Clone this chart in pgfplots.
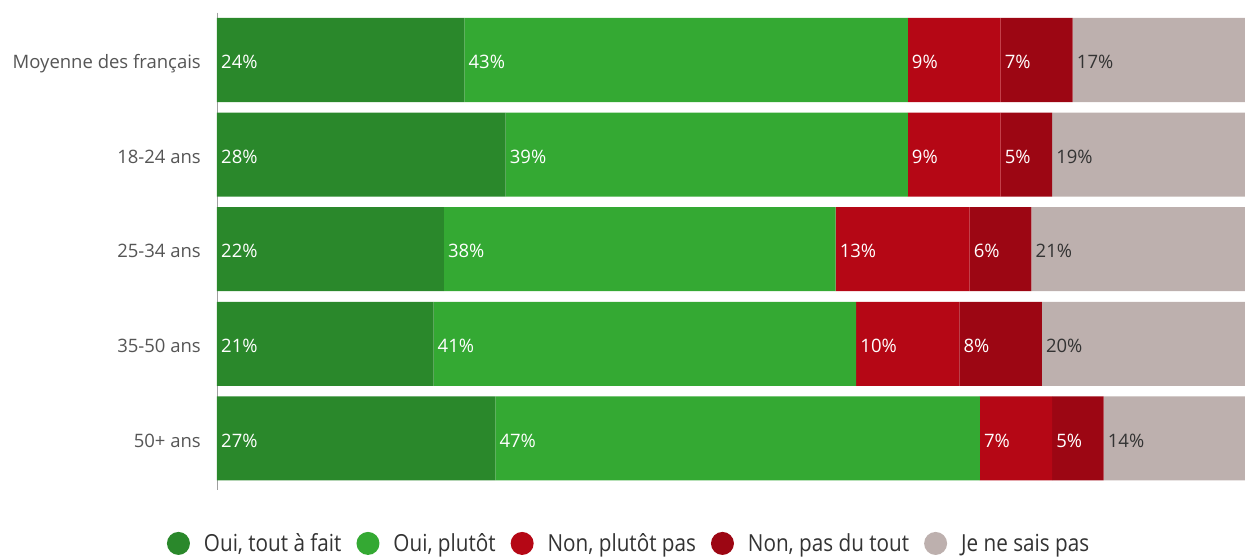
\documentclass[border=0pt]{standalone}
\usepackage{fontspec}
\setmainfont{Open Sans}
\newfontfamily\legfont[FakeStretch=0.88]{Open Sans}
\usepackage{pgfplots}
\pgfplotsset{compat=1.18}
\definecolor{c1}{HTML}{2A882B}
\definecolor{c2}{HTML}{34A933}
\definecolor{c3}{HTML}{B50715}
\definecolor{c4}{HTML}{9C0613}
\definecolor{c5}{HTML}{BDB0AE}
\definecolor{txt}{HTML}{555555}
\definecolor{dark}{HTML}{333333}
\definecolor{axisgray}{HTML}{A0A0A0}

\begin{document}
\begin{tikzpicture}[font=\fontsize{18.5}{22}\selectfont]
\begin{axis}[
    name=ax,
    scale only axis,
    width=1031pt, height=477.7pt,
    xmin=0, xmax=100,
    ymin=-0.5, ymax=4.55,
    y dir=reverse,
    xbar stacked,
    bar width=0.888,
    hide x axis,
    axis y line*=left,
    y axis line style={draw=axisgray, line width=0.8pt},
    ytick={0,1,2,3,4},
    yticklabels={Moyenne des français,18-24 ans,25-34 ans,35-50 ans,50+ ans},
    major tick length=0pt,
    yticklabel style={text=txt, inner sep=0pt, anchor=mid east, xshift=-16pt, yshift=-6pt},
    legend style={at={(0.3987,-0.111)}, anchor=center, draw=none,
        legend columns=5, text=dark,
        font=\legfont\fontsize{23.5}{27}\selectfont,
        nodes={inner sep=0pt},
        /tikz/every even column/.append style={column sep=15pt},
        /tikz/every odd column/.append style={column sep=14pt}},
    legend image code/.code={\fill[#1] (0pt,0pt) circle (11.5pt);},
]
\addplot[fill=c1, draw=none] coordinates {(24,0) (28,1) (22,2) (21,3) (27,4)};
\addlegendentry{Oui, tout à fait}
\addplot[fill=c2, draw=none] coordinates {(43,0) (39,1) (38,2) (41,3) (47,4)};
\addlegendentry{Oui, plutôt}
\addplot[fill=c3, draw=none] coordinates {(9,0) (9,1) (13,2) (10,3) (7,4)};
\addlegendentry{Non, plutôt pas}
\addplot[fill=c4, draw=none] coordinates {(7,0) (5,1) (6,2) (8,3) (5,4)};
\addlegendentry{Non, pas du tout}
\addplot[fill=c5, draw=none] coordinates {(17,0) (19,1) (21,2) (20,3) (14,4)};
\addlegendentry{Je ne sais pas}
\end{axis}

% segment labels, placed at the left edge of each segment
\begin{axis}[
    at={(ax.south west)}, anchor=south west,
    scale only axis,
    width=1031pt, height=477.7pt,
    xmin=0, xmax=100,
    ymin=-0.5, ymax=4.55,
    y dir=reverse,
    hide axis,
    nodes near coords,
    point meta=explicit symbolic,
    every node near coord/.append style={anchor=mid west, inner sep=0pt, xshift=4pt, yshift=-6pt},
]
\addplot[draw=none, mark=none, nodes near coords style={text=white}] coordinates {
    (0,0) [24\%] (0,1) [28\%] (0,2) [22\%] (0,3) [21\%] (0,4) [27\%]};
\addplot[draw=none, mark=none, nodes near coords style={text=white}] coordinates {
    (24,0) [43\%] (28,1) [39\%] (22,2) [38\%] (21,3) [41\%] (27,4) [47\%]};
\addplot[draw=none, mark=none, nodes near coords style={text=white}] coordinates {
    (67,0) [9\%] (67,1) [9\%] (60,2) [13\%] (62,3) [10\%] (74,4) [7\%]};
\addplot[draw=none, mark=none, nodes near coords style={text=white}] coordinates {
    (76,0) [7\%] (76,1) [5\%] (73,2) [6\%] (72,3) [8\%] (81,4) [5\%]};
\addplot[draw=none, mark=none, nodes near coords style={text=dark}] coordinates {
    (83,0) [17\%] (81,1) [19\%] (79,2) [21\%] (80,3) [20\%] (86,4) [14\%]};
\end{axis}
\pgfresetboundingbox
\path ([shift={(-217pt,-66.5pt)}]ax.south west) rectangle ([shift={(-3pt,12.7pt)}]ax.north east);
\end{tikzpicture}
\end{document}
